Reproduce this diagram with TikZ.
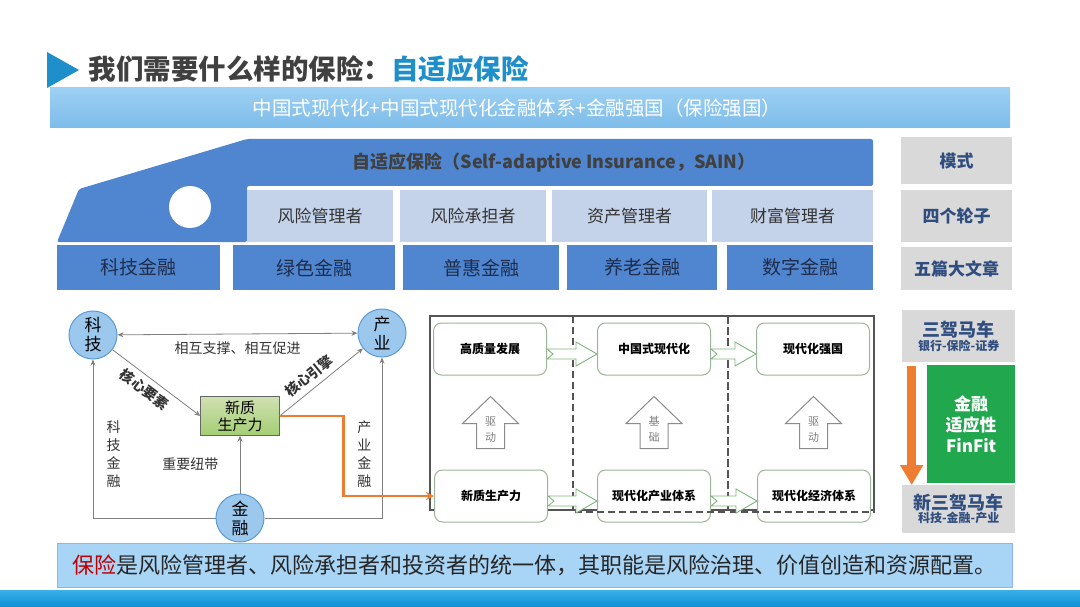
\documentclass[tikz,border=0pt]{standalone}
\usepackage{fontspec}
\setmainfont{Noto Sans CJK SC}
\usetikzlibrary{arrows.meta,calc,positioning}

\definecolor{trainblue}{HTML}{4F86CF}
\definecolor{wheelgray}{HTML}{C5D3EA}
\definecolor{sidegray}{HTML}{D9D9D9}
\definecolor{sidetext}{HTML}{2F4D7E}
\definecolor{titleblue}{HTML}{1E8FCB}
\definecolor{articletext}{HTML}{1F2D4D}
\definecolor{circfill}{HTML}{9CC8EE}
\definecolor{circline}{HTML}{5B9BD5}
\definecolor{finorange}{HTML}{ED7D31}
\definecolor{fingreen}{HTML}{21A84E}
\definecolor{flowline}{HTML}{9CB59A}
\definecolor{fatline}{HTML}{7DB77A}
\definecolor{framegray}{HTML}{555555}
\definecolor{notered}{HTML}{C00000}
\definecolor{notefill}{HTML}{A8D4F5}
\definecolor{bannertop}{HTML}{9DD0F3}
\definecolor{bannerbot}{HTML}{7DBCEA}
\definecolor{bandtop}{HTML}{3AB0EA}
\definecolor{bandbot}{HTML}{0B8FD4}

% horizontal hollow arrow between two flow boxes
\newcommand{\rightfat}[2]{%
  \draw[fatarrow] (#1.east) -- ([shift={(-21,0)}]#2.west) -- ([shift={(-21,-7)}]#2.west)
    -- ([shift={(0,5)}]#2.west) -- ([shift={(-21,17)}]#2.west) -- ([shift={(-21,10)}]#2.west)
    -- ([shift={(0,10)}]#1.east) -- ([shift={(6,5)}]#1.east) -- cycle;
}
% upward hollow arrow with a label
\newcommand{\upfat}[3]{%
  \coordinate (mid#1) at ($(#1.north)!0.5!(#2.south)$);
  \draw[uparrow] ([shift={(-14,26)}]mid#1) -- ([shift={(-14,1)}]mid#1) -- ([shift={(-28,1)}]mid#1)
    -- ([shift={(0,-26)}]mid#1) -- ([shift={(28,1)}]mid#1) -- ([shift={(14,1)}]mid#1)
    -- ([shift={(14,26)}]mid#1) -- cycle;
  \node[font=\fontsize{11}{16}\selectfont, text=gray, align=center] (lbl#1) at ([shift={(0,7)}]mid#1) {#3};
}

\begin{document}
\begin{tikzpicture}[x=1pt, y=-1pt,
    >={Stealth[length=6pt,width=5pt]},
    cell/.style={anchor=north west, inner sep=0pt},
    wheel/.style={cell, fill=wheelgray, text=black!80, minimum height=52pt, font=\fontsize{17}{20}\selectfont},
    article/.style={cell, fill=trainblue, text=articletext, minimum height=45pt, font=\fontsize{19}{22}\selectfont},
    side/.style={cell, fill=sidegray, text=sidetext, minimum width=111pt, font=\bfseries\fontsize{17}{20}\selectfont},
    cartbox/.style={cell, fill=sidegray, text=sidetext, minimum width=113pt, align=center, font=\bfseries},
    ball/.style={circle, minimum size=48pt, inner sep=0pt, fill=circfill, draw=circline, line width=1pt, align=center, font=\fontsize{17}{19}\selectfont},
    link/.style={draw=gray, line width=0.8pt, ->},
    linklabel/.style={text=black!80, font=\fontsize{14}{18}\selectfont},
    flowbox/.style={draw=flowline, line width=1pt, rounded corners=8pt, fill=white, minimum width=113pt, minimum height=52pt, font=\bfseries\fontsize{12}{14}\selectfont},
    fatarrow/.style={draw=fatline, fill=white, line width=0.9pt},
    uparrow/.style={draw=gray!90, fill=white, line width=1pt}]

  \useasboundingbox (0,0) rectangle (1080,607);
  \fill[white] (0,0) rectangle (1080,607);

  % title
  \fill[titleblue] (47,52) -- (79,70) -- (47,88) -- cycle;
  \node[anchor=west, text=black!75, font=\bfseries\fontsize{27.5}{31}\selectfont] (title) at (85,69)
    {我们需要什么样的保险：\textcolor{titleblue}{自适应保险}};

  % banner
  \shade[top color=bannertop, bottom color=bannerbot] (50,88) rectangle (1010,128);
  \node[text=white, font=\fontsize{19.5}{22}\selectfont] (banner) at (517,108)
    {中国式现代化+中国式现代化金融体系+金融强国（保险强国）};

  % the train
  \fill[trainblue, rounded corners=2pt] (57,242) -- (79,189) -- (247,139) -- (873,139)
    -- (873,186) -- (247,186) -- (247,242) -- cycle;
  \fill[white] (190,207) circle[radius=21];
  \node[text=black!75, font=\bfseries\fontsize{18}{22}\selectfont] (sain) at (554,163)
    {自适应保险（Self-adaptive Insurance，SAIN）};

  \node[wheel, minimum width=146pt] (risk1) at (247,190) {风险管理者};
  \node[wheel, minimum width=146pt] (risk2) at (400,190) {风险承担者};
  \node[wheel, minimum width=155pt] (asset) at (552,190) {资产管理者};
  \node[wheel, minimum width=161pt] (wealth) at (712,190) {财富管理者};

  \node[article, minimum width=163pt] (techfin) at (57,245) {科技金融};
  \node[article, minimum width=162pt] (greenfin) at (233,245) {绿色金融};
  \node[article, minimum width=156pt] (inclfin) at (403,245) {普惠金融};
  \node[article, minimum width=150pt] (pensfin) at (567,245) {养老金融};
  \node[article, minimum width=146pt] (digifin) at (727,245) {数字金融};

  \node[side, minimum height=47pt] (mode) at (901,137) {模式};
  \node[side, minimum height=52pt] (wheels) at (901,190) {四个轮子};
  \node[side, minimum height=43pt] (essays) at (901,247) {五篇大文章};

  % triangle: tech, industry, finance
  \node[ball] (keji) at (93,335) {科\\技};
  \node[ball] (chanye) at (382,333) {产\\业};
  \node[ball] (jinrong) at (240,518) {金\\融};
  \node[draw=black!60, top color=green!20!olive!30, bottom color=green!30!olive!55, minimum width=79pt,
    minimum height=39pt, inner sep=0pt, align=center, font=\fontsize{15}{17}\selectfont] (xzsl) at (240,416) {新质\\生产力};

  \draw[link, <->] (keji) -- node[linklabel, below=4pt] {相互支撑、相互促进} (chanye);
  \draw[link] (keji) -- node[linklabel, font=\bfseries\fontsize{14}{18}\selectfont, sloped, below=2pt, pos=0.45] {核心要素} (xzsl.west);
  \draw[link] (xzsl.east) -- node[linklabel, font=\bfseries\fontsize{14}{18}\selectfont, sloped, above=2pt, pos=0.45] {核心引擎} (chanye);
  \draw[link] (jinrong) -- node[linklabel, left=18pt] {重要纽带} (xzsl);
  \draw[link] (jinrong.west) -| node[linklabel, pos=0.7, right=10pt, align=center] {科\\技\\金\\融} (keji);
  \draw[link] (jinrong.east) -| node[linklabel, pos=0.7, left=7pt, align=center] {产\\业\\金\\融} (chanye);

  % flow diagram
  \draw[framegray, line width=1.2pt] (430,316) rectangle (874,510);
  \node[flowbox] (gzl) at (490,349) {高质量发展};
  \node[flowbox] (zgs) at (654,349) {中国式现代化};
  \node[flowbox] (xdq) at (813,349) {现代化强国};
  \node[flowbox] (xz2) at (491,496) {新质生产力};
  \node[flowbox] (cyt) at (654,496) {现代化产业体系};
  \node[flowbox] (jjt) at (814,496) {现代化经济体系};
  \draw[framegray, line width=1.8pt, dash pattern=on 7pt off 4pt]
    (573,316) rectangle (728,512) (728,316) rectangle (874,512);

  \rightfat{gzl}{zgs}
  \rightfat{zgs}{xdq}
  \rightfat{xz2}{cyt}
  \rightfat{cyt}{jjt}
  \upfat{xz2}{gzl}{驱\\动}
  \upfat{cyt}{zgs}{基\\础}
  \upfat{jjt}{xdq}{驱\\动}

  \draw[finorange, line width=2.5pt, -{Stealth[length=8pt,width=8pt]}] (xzsl.east) -- ++(64,0) |- (xz2.west);

  % three carriages
  \node[cartbox, minimum height=52pt] (oldcart) at (902,310)
    {{\fontsize{18}{22}\selectfont 三驾马车}\\{\fontsize{12}{15}\selectfont 银行-保险-证券}};
  \node[cell, fill=fingreen, minimum width=88pt, minimum height=118pt, text=white, align=center,
    font=\bfseries\fontsize{17}{21}\selectfont] (finfit) at (927,365) {金融\\适应性\\FinFit};
  \node[cartbox, minimum height=48pt] (newcart) at (902,485)
    {{\fontsize{18}{22}\selectfont 新三驾马车}\\{\fontsize{12}{15}\selectfont 科技-金融-产业}};
  \draw[finorange, line width=9pt, -{Triangle[length=20pt,width=22pt]}]
    ([shift={(-47,4)}]oldcart.south) -- ([shift={(-47,0)}]newcart.north);

  % bottom note
  \node[cell, fill=notefill, draw=notefill!85!blue, minimum width=955pt, minimum height=44pt,
    font=\fontsize{22}{26}\selectfont, text=black!85] (note) at (57,543)
    {\textcolor{notered}{保险}是风险管理者、风险承担者和投资者的统一体，其职能是风险治理、价值创造和资源配置。};
  \shade[top color=bandtop, bottom color=bandbot] (0,590) rectangle (1080,607);
\end{tikzpicture}
\end{document}
